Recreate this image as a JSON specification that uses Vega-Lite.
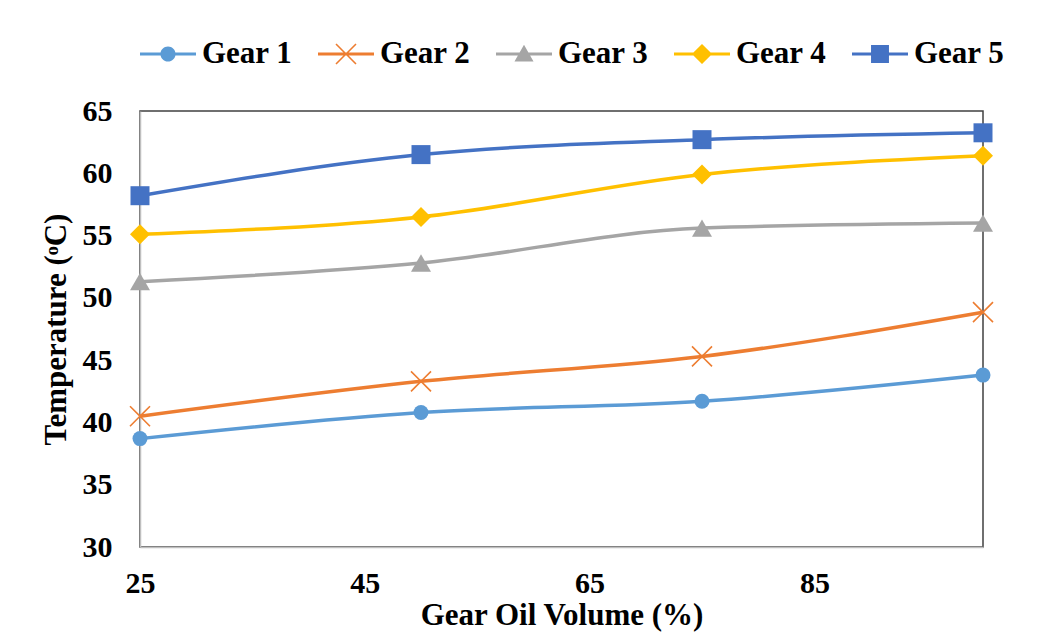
{
  "$schema": "https://vega.github.io/schema/vega-lite/v6.json",
  "width": 1049,
  "height": 634,
  "autosize": {"type": "fit", "contains": "padding"},
  "padding": {"left": 40, "right": 55, "top": 26, "bottom": 4},
  "background": "white",
  "config": {
    "view": {"stroke": "#404040", "strokeWidth": 1.5},
    "font": "Liberation Serif"
  },
  "data": {
    "values": [
      {"series": "Gear 1", "volume": 25, "temp": 38.7},
      {"series": "Gear 1", "volume": 50, "temp": 40.8},
      {"series": "Gear 1", "volume": 75, "temp": 41.7},
      {"series": "Gear 1", "volume": 100, "temp": 43.8},
      {"series": "Gear 2", "volume": 25, "temp": 40.5},
      {"series": "Gear 2", "volume": 50, "temp": 43.3},
      {"series": "Gear 2", "volume": 75, "temp": 45.3},
      {"series": "Gear 2", "volume": 100, "temp": 48.85},
      {"series": "Gear 3", "volume": 25, "temp": 51.3},
      {"series": "Gear 3", "volume": 50, "temp": 52.8},
      {"series": "Gear 3", "volume": 75, "temp": 55.6},
      {"series": "Gear 3", "volume": 100, "temp": 56.0},
      {"series": "Gear 4", "volume": 25, "temp": 55.1},
      {"series": "Gear 4", "volume": 50, "temp": 56.5},
      {"series": "Gear 4", "volume": 75, "temp": 59.9},
      {"series": "Gear 4", "volume": 100, "temp": 61.4},
      {"series": "Gear 5", "volume": 25, "temp": 58.2},
      {"series": "Gear 5", "volume": 50, "temp": 61.5},
      {"series": "Gear 5", "volume": 75, "temp": 62.7},
      {"series": "Gear 5", "volume": 100, "temp": 63.25}
    ]
  },
  "encoding": {
    "x": {
      "field": "volume",
      "type": "quantitative",
      "scale": {"domain": [25, 100], "nice": false, "zero": false},
      "axis": {
        "values": [25, 45, 65, 85],
        "title": "Gear Oil Volume (%)",
        "grid": false,
        "ticks": false,
        "domainColor": "#BFBFBF",
        "domainWidth": 1.5,
        "labelFont": "Liberation Serif",
        "labelFontWeight": "bold",
        "labelFontSize": 30,
        "labelColor": "#000000",
        "labelPadding": 21,
        "labelFlush": false,
        "titleFont": "Liberation Serif",
        "titleFontWeight": "bold",
        "titleFontSize": 31,
        "titleColor": "#000000",
        "titlePadding": 2
      }
    },
    "y": {
      "field": "temp",
      "type": "quantitative",
      "scale": {"domain": [30, 65], "nice": false, "zero": false},
      "axis": {
        "values": [30, 35, 40, 45, 50, 55, 60, 65],
        "title": "Temperature (ᵒC)",
        "grid": false,
        "ticks": false,
        "domainColor": "#BFBFBF",
        "domainWidth": 1.5,
        "labelFont": "Liberation Serif",
        "labelFontWeight": "bold",
        "labelFontSize": 30,
        "labelColor": "#000000",
        "labelPadding": 28,
        "titleFont": "Liberation Serif",
        "titleFontWeight": "bold",
        "titleFontSize": 31,
        "titleColor": "#000000",
        "titlePadding": 10
      }
    },
    "color": {
      "field": "series",
      "type": "nominal",
      "scale": {
        "domain": ["Gear 1", "Gear 2", "Gear 3", "Gear 4", "Gear 5"],
        "range": ["#5B9BD5", "#ED7D31", "#A5A5A5", "#FFC000", "#4472C4"]
      },
      "legend": {
        "orient": "top",
        "direction": "horizontal",
        "columns": 5,
        "title": null,
        "offset": 42,
        "columnPadding": 25,
        "labelOffset": 6,
        "labelFont": "Liberation Serif",
        "labelFontWeight": "bold",
        "labelFontSize": 31,
        "labelColor": "#000000",
        "symbolSize": 3136,
        "symbolStrokeWidth": 0,
        "symbolOpacity": 1,
        "encode": {
          "symbols": {
            "update": {
              "shape": {"signal": "datum.value === 'Gear 1' ? 'M-1,-0.055L1,-0.055L1,0.055L-1,0.055ZM0.27,0A0.27,0.27 0 1,1 -0.27,0A0.27,0.27 0 1,1 0.27,0Z' : datum.value === 'Gear 2' ? 'M-1,-0.055L1,-0.055L1,0.055L-1,0.055ZM0.377,-0.337L0.040,0L0.377,0.337L0.337,0.377L0,0.040L-0.337,0.377L-0.377,0.337L-0.040,0L-0.377,-0.337L-0.337,-0.377L0,-0.040L0.337,-0.377Z' : datum.value === 'Gear 3' ? 'M-1,-0.055L1,-0.055L1,0.055L-1,0.055ZM0,-0.33L0.34,0.27L-0.34,0.27Z' : datum.value === 'Gear 4' ? 'M-1,-0.055L1,-0.055L1,0.055L-1,0.055ZM0,-0.36L0.36,0L0,0.36L-0.36,0Z' : 'M-1,-0.055L1,-0.055L1,0.055L-1,0.055ZM-0.32,-0.32L0.32,-0.32L0.32,0.32L-0.32,0.32Z'"},
              "fill": {"signal": "scale('color', datum.value)"},
              "stroke": {"value": "transparent"},
              "strokeWidth": {"value": 0},
              "size": {"value": 3136},
              "opacity": {"value": 1}
            }
          }
        }
      }
    }
  },
  "layer": [
    {
      "mark": {"type": "line", "interpolate": "monotone", "strokeWidth": 3.5}
    },
    {
      "transform": [{"filter": "datum.series === 'Gear 1'"}],
      "mark": {"type": "point", "filled": true, "opacity": 1, "shape": "circle", "size": 225}
    },
    {
      "transform": [{"filter": "datum.series === 'Gear 2'"}],
      "mark": {"type": "point", "filled": true, "opacity": 1, "size": 400, "shape": "M1.057,-0.943L0.113,0L1.057,0.943L0.943,1.057L0,0.113L-0.943,1.057L-1.057,0.943L-0.113,0L-1.057,-0.943L-0.943,-1.057L0,-0.113L0.943,-1.057Z"}
    },
    {
      "transform": [{"filter": "datum.series === 'Gear 3'"}],
      "mark": {"type": "point", "filled": true, "opacity": 1, "shape": "triangle-up", "size": 400}
    },
    {
      "transform": [{"filter": "datum.series === 'Gear 4'"}],
      "mark": {"type": "point", "filled": true, "opacity": 1, "shape": "diamond", "size": 400}
    },
    {
      "transform": [{"filter": "datum.series === 'Gear 5'"}],
      "mark": {"type": "point", "filled": true, "opacity": 1, "shape": "square", "size": 361}
    }
  ]
}
